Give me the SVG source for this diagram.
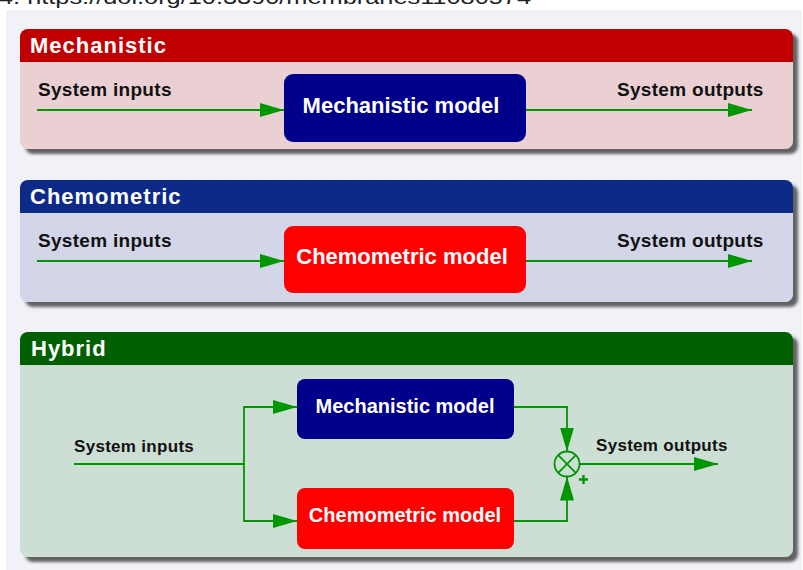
<svg xmlns="http://www.w3.org/2000/svg" width="803" height="570" viewBox="0 0 803 570">
<defs>
<style>
.title{font-family:"Liberation Sans",Arial,sans-serif;font-weight:bold;font-size:22px;fill:#fff;letter-spacing:1px}
.lbl{font-family:"Liberation Sans",Arial,sans-serif;font-weight:bold;font-size:19px;fill:#111;letter-spacing:0.3px}
.lbl2{font-family:"Liberation Sans",Arial,sans-serif;font-weight:bold;font-size:17px;fill:#111;letter-spacing:0.3px}
.box{font-family:"Liberation Sans",Arial,sans-serif;font-weight:bold;font-size:22px;fill:#fff;text-anchor:middle}
.box2{font-family:"Liberation Sans",Arial,sans-serif;font-weight:bold;font-size:20px;fill:#fff;text-anchor:middle}
.wire{fill:none;stroke:#009600;stroke-width:1.8}
</style>
<filter id="sh" x="-5%" y="-10%" width="115%" height="125%">
<feDropShadow dx="5" dy="5" stdDeviation="1.6" flood-color="#333" flood-opacity="0.75"/>
</filter>
<marker id="ah" viewBox="0 0 24 14" refX="24" refY="7" markerWidth="24" markerHeight="14" markerUnits="userSpaceOnUse" orient="auto">
<path d="M0,0 L24,7 L0,14 Z" fill="#009600"/>
</marker>
</defs>
<rect width="803" height="570" fill="#fff"/>
<text x="-1" y="4" font-family="'Liberation Sans',Arial,sans-serif" font-size="21" fill="#222" textLength="532" lengthAdjust="spacingAndGlyphs">4. https://doi.org/10.3390/membranes11080574</text>
<rect x="6" y="10" width="796" height="560" fill="#f1f2f7"/>

<g id="panel-mechanistic">
<g filter="url(#sh)">
<rect x="20" y="29" width="773" height="120" rx="8" fill="#ebd0d3"/>
<path d="M20,62 V37 a8,8 0 0 1 8,-8 H785 a8,8 0 0 1 8,8 V62 Z" fill="#c00000"/>
</g>
<text class="title" x="30" y="53">Mechanistic</text>
<text class="lbl" x="38" y="96">System inputs</text>
<text class="lbl" x="617" y="96">System outputs</text>
</g>
<g id="node-mech1">
<rect x="284" y="74" width="242" height="68" rx="9" fill="#00008b"/>
<text class="box" x="401" y="113">Mechanistic model</text>
</g>

<g id="panel-chemometric">
<g filter="url(#sh)">
<rect x="20" y="180" width="773" height="122" rx="8" fill="#d2d6e8"/>
<path d="M20,213 V188 a8,8 0 0 1 8,-8 H785 a8,8 0 0 1 8,8 V213 Z" fill="#102a89"/>
</g>
<text class="title" x="30" y="204">Chemometric</text>
<text class="lbl" x="38" y="247">System inputs</text>
<text class="lbl" x="617" y="247">System outputs</text>
</g>
<g id="node-chem1">
<rect x="284" y="226" width="242" height="67" rx="9" fill="#ff0000"/>
<text class="box" x="402" y="264">Chemometric model</text>
</g>

<g id="panel-hybrid">
<g filter="url(#sh)">
<rect x="20" y="332" width="773" height="225" rx="8" fill="#cddfd5"/>
<path d="M20,365 V340 a8,8 0 0 1 8,-8 H785 a8,8 0 0 1 8,8 V365 Z" fill="#006000"/>
</g>
<text class="title" x="31" y="356">Hybrid</text>
<text class="lbl2" x="74" y="452">System inputs</text>
<text class="lbl2" x="596" y="451">System outputs</text>
</g>
<g id="node-mech2">
<rect x="297" y="379" width="217" height="60" rx="8" fill="#00008b"/>
<text class="box2" x="405" y="413">Mechanistic model</text>
</g>
<g id="node-chem2">
<rect x="297" y="488" width="217" height="61" rx="8" fill="#ff0000"/>
<text class="box2" x="405" y="522">Chemometric model</text>
</g>
<g id="node-sum">
<circle cx="567" cy="464" r="12.5" fill="none" stroke="#009600" stroke-width="1.8"/>
<path d="M558.2,455.2 L575.8,472.8 M575.8,455.2 L558.2,472.8" stroke="#009600" stroke-width="1.8"/>
<path d="M579,479.5 H588 M583.5,475 V484" stroke="#009600" stroke-width="2.4"/>
</g>

<g id="connectors">
<path class="wire" d="M37,110 H284" marker-end="url(#ah)"/>
<path class="wire" d="M526,110 H752" marker-end="url(#ah)"/>
<path class="wire" d="M37,261 H284" marker-end="url(#ah)"/>
<path class="wire" d="M526,261 H752" marker-end="url(#ah)"/>
<path class="wire" d="M74,464 H244"/>
<path class="wire" d="M244,464 V407 H297" marker-end="url(#ah)"/>
<path class="wire" d="M244,464 V521 H297" marker-end="url(#ah)"/>
<path class="wire" d="M514,407 H567 V451.5" marker-end="url(#ah)"/>
<path class="wire" d="M514,521 H567 V476.5" marker-end="url(#ah)"/>
<path class="wire" d="M579.5,464 H718" marker-end="url(#ah)"/>
</g>
</svg>
